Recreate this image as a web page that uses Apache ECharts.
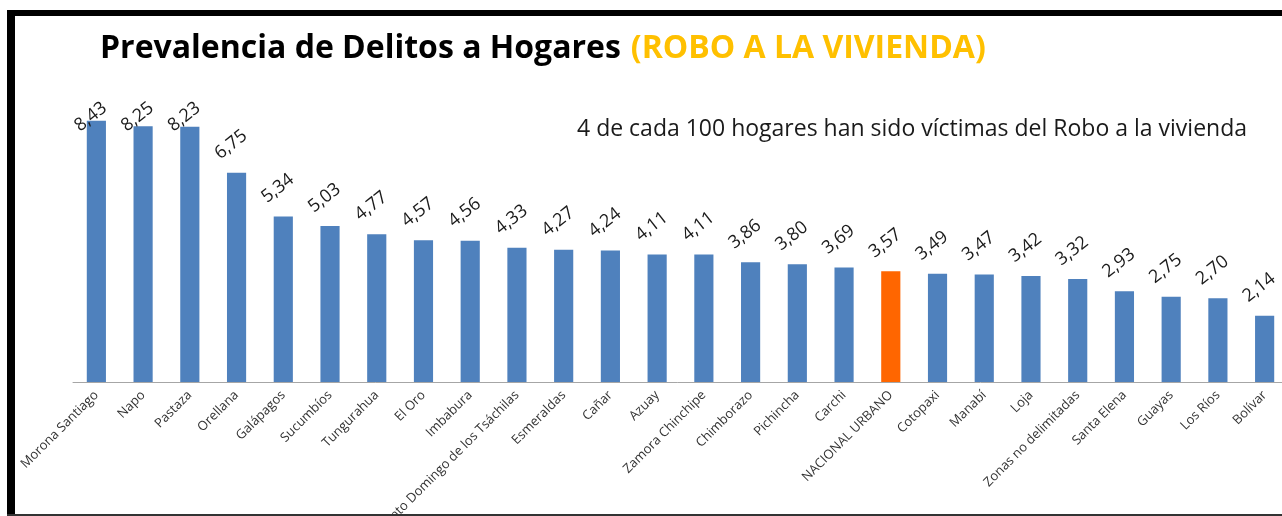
<!DOCTYPE html>
<html>
<head>
<meta charset="utf-8">
<title>Prevalencia de Delitos a Hogares</title>
<script src="https://cdn.jsdelivr.net/npm/echarts@6/dist/echarts.min.js"></script>
<style>
  html, body { margin: 0; padding: 0; background: #fff; }
  #chart { width: 1282px; height: 516px; }
</style>
</head>
<body>
<div id="chart"></div>
<script>
'use strict';

// provincias, ordenadas de mayor a menor
var provincias = ['Morona Santiago', 'Napo', 'Pastaza', 'Orellana', 'Galápagos', 'Sucumbíos',
  'Tungurahua', 'El Oro', 'Imbabura', 'Santo Domingo de los Tsáchilas', 'Esmeraldas', 'Cañar',
  'Azuay', 'Zamora Chinchipe', 'Chimborazo', 'Pichincha', 'Carchi', 'NACIONAL URBANO',
  'Cotopaxi', 'Manabí', 'Loja', 'Zonas no delimitadas', 'Santa Elena', 'Guayas', 'Los Ríos', 'Bolívar'];
var prevalencia = [8.43, 8.25, 8.23, 6.75, 5.34, 5.03, 4.77, 4.57, 4.56, 4.33, 4.27, 4.24,
  4.11, 4.11, 3.86, 3.80, 3.69, 3.57, 3.49, 3.47, 3.42, 3.32, 2.93, 2.75, 2.70, 2.14];
var destacado = 'NACIONAL URBANO';

var azul = '#4F81BD';
var naranja = '#FF6600';

var myChart = echarts.init(document.getElementById('chart'));

var datos = provincias.map(function (p, i) {
  var v = prevalencia[i];
  // las etiquetas de las barras más altas quedan pegadas al borde superior
  return {
    value: v,
    itemStyle: { color: p === destacado ? naranja : azul },
    label: { distance: Math.min(21, 258 - v * 31) }
  };
});

var option = {
  backgroundColor: '#fff',
  animation: false,
  title: [{
    text: '{a|Prevalencia de Delitos a Hogares}  {b|(ROBO A LA VIVIENDA)}',
    left: 95,
    top: 28,
    textStyle: {
      rich: {
        a: { fontFamily: 'Open Sans', fontWeight: 'bold', fontSize: 32, color: '#000' },
        b: { fontFamily: 'Open Sans', fontWeight: 'bold', fontSize: 32, color: '#FFC000' }
      }
    }
  }, {
    text: '4 de cada 100 hogares han sido víctimas del Robo a la vivienda',
    left: 572,
    top: 113,
    textStyle: { fontFamily: 'Open Sans', fontWeight: 'normal', fontSize: 23, color: '#1a1a1a' }
  }],
  grid: { left: 73, width: 1215, top: 72, bottom: 134, outerBoundsMode: 'none', containLabel: false },
  xAxis: {
    type: 'category',
    data: provincias,
    axisLine: { lineStyle: { color: '#A6A6A6', width: 1 } },
    axisTick: { show: false },
    axisLabel: {
      interval: 0,
      rotate: 45,
      margin: 11,
      fontFamily: 'Open Sans',
      fontSize: 13,
      color: '#333'
    }
  },
  yAxis: {
    type: 'value',
    min: 0,
    max: 10,
    show: false,
    splitLine: { show: false }
  },
  series: [{
    type: 'bar',
    data: datos,
    barWidth: '41%',
    label: {
      show: true,
      position: 'top',
      rotate: 38,
      fontFamily: 'Open Sans',
      fontSize: 18,
      color: '#1a1a1a',
      formatter: function (p) { return p.value.toFixed(2).replace('.', ','); }
    }
  }],
  graphic: [
    { type: 'rect', shape: { x: 7, y: 10, width: 1275, height: 6 }, style: { fill: '#000' } },
    { type: 'rect', shape: { x: 7, y: 10, width: 8, height: 506 }, style: { fill: '#000' } },
    { type: 'rect', shape: { x: 7, y: 514, width: 1275, height: 2 }, style: { fill: '#333' } }
  ]
};

myChart.setOption(option);
</script>
</body>
</html>
